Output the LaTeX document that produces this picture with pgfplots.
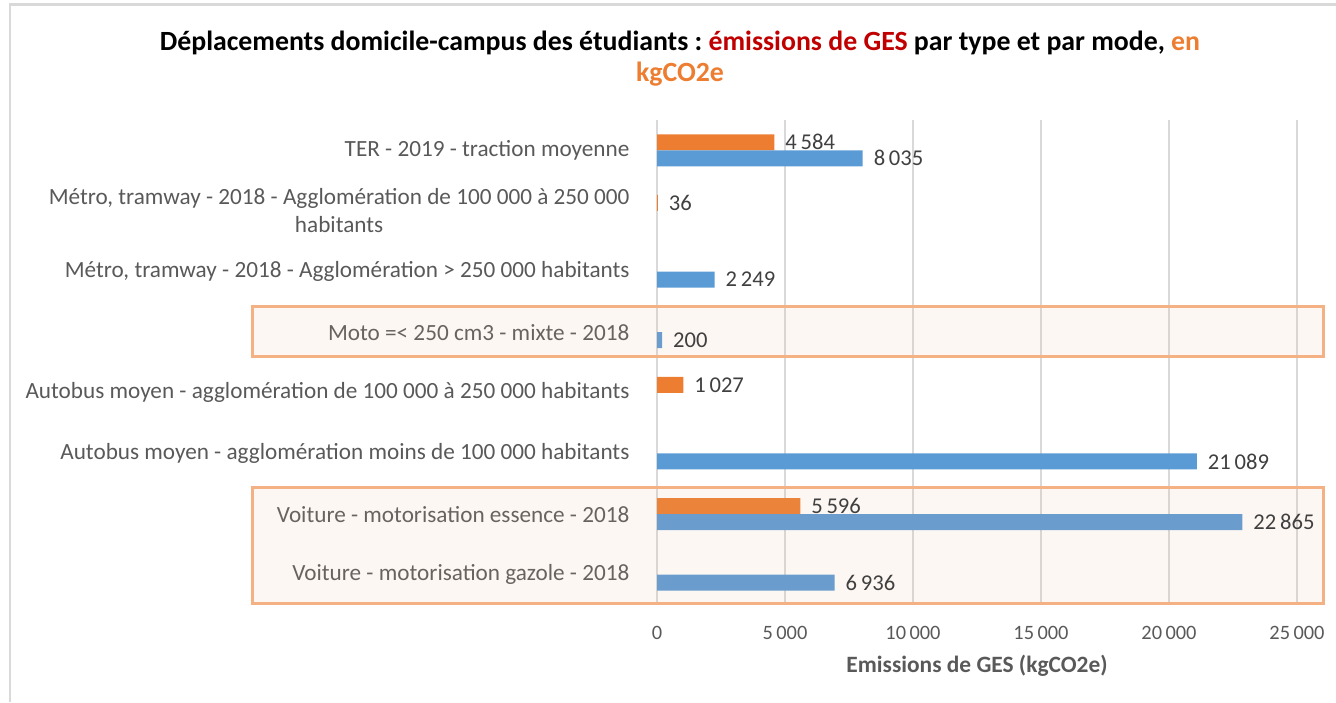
\documentclass[border=0pt]{standalone}
\usepackage{fontspec}
\setmainfont{Carlito}
\usepackage{pgfplots}
\pgfplotsset{compat=1.18}

\definecolor{barorange}{HTML}{ED7D31}
\definecolor{barblue}{HTML}{5B9BD5}
\definecolor{titlered}{HTML}{C00000}
\definecolor{txtgray}{HTML}{595959}
\definecolor{lblgray}{HTML}{404040}
\definecolor{gridgray}{HTML}{D9D9D9}
\definecolor{boxline}{HTML}{F4B183}
\definecolor{boxfill}{RGB}{228,182,146}

\pgfplotsset{
  /pgf/number format/.cd, fixed, precision=0, 1000 sep={\,}, assume math mode=true
}

\begin{document}
\begin{tikzpicture}
% 1px = 0.5pt
\path[use as bounding box] (0,0) rectangle (668pt,-351pt);
\draw[gridgray, line width=1.2pt] (5pt,-351pt) -- (5pt,-2.2pt) -- (668pt,-2.2pt);

\node[font=\bfseries\fontsize{13.9}{15}\selectfont] at (340pt,-21.5pt)
  {Déplacements domicile-campus des étudiants :\ \textcolor{titlered}{émissions de GES} par type et par mode, \textcolor{barorange}{en}};
\node[font=\bfseries\fontsize{13.9}{15}\selectfont, text=barorange] at (340pt,-37pt) {kgCO2e};

\begin{axis}[
  at={(328.5pt,-302.5pt)}, anchor=south west,
  scale only axis, width=320pt, height=242.5pt,
  xmin=0, xmax=25000, ymin=-0.5, ymax=7.5,
  xbar, bar width=8pt,
  scaled x ticks=false,
  xtick={0,5000,10000,15000,20000,25000},
  ytick={0,1,2,3,4,5,6,7},
  yticklabels={
    Voiture - motorisation gazole - 2018,
    Voiture - motorisation essence - 2018,
    Autobus moyen - agglomération moins de 100 000 habitants,
    Autobus moyen - agglomération de 100 000 à 250 000 habitants,
    Moto =< 250 cm3 - mixte - 2018,
    {Métro, tramway - 2018 - Agglomération > 250 000 habitants},
    {Métro, tramway - 2018 - Agglomération de 100 000 à 250 000\\habitants},
    TER - 2019 - traction moyenne},
  yticklabel style={font=\fontsize{11.6}{14}\selectfont, text=txtgray, align=center, xshift=-6pt},
  xticklabel style={font=\fontsize{10.2}{12}\selectfont, text=txtgray, yshift=-7pt},
  xmajorgrids, grid style={gridgray, line width=1pt},
  axis line style={draw=none}, tick style={draw=none},
  xlabel={Emissions de GES (kgCO2e)},
  xlabel style={font=\bfseries\fontsize{11.7}{13}\selectfont, text=txtgray, at={(axis description cs:0.5,0)}, anchor=center, yshift=-30.5pt},
  point meta=x,
  nodes near coords,
  every node near coord/.append style={font=\fontsize{11.3}{13}\selectfont, text=lblgray, xshift=2pt},
  clip=false,
]
\addplot[fill=barorange, draw=none, bar shift=4pt] coordinates {
  (4584,7) (36,6) (1027,3) (5596,1)
};
\addplot[fill=barblue, draw=none, bar shift=-4pt] coordinates {
  (8035,7) (2249,5) (200,4) (21089,2) (22865,1) (6936,0)
};
\draw[boxline, line width=1.5pt, fill=boxfill, fill opacity=0.11]
  (axis cs:-15820,4.418) rectangle (axis cs:26016,3.595);
\draw[boxline, line width=1.5pt, fill=boxfill, fill opacity=0.11]
  (axis cs:-15820,1.437) rectangle (axis cs:26016,-0.475);
\end{axis}
\end{tikzpicture}
\end{document}
